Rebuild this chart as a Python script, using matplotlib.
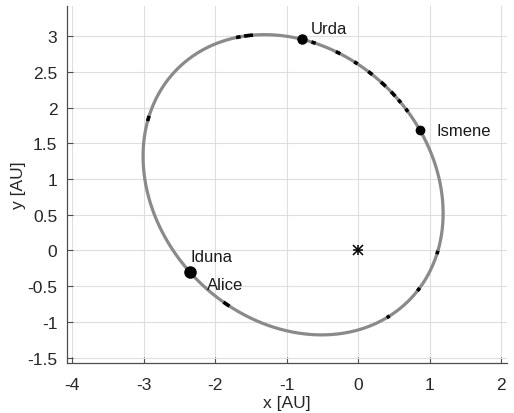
import numpy as np
import matplotlib
matplotlib.use("Agg")
import matplotlib.pyplot as plt

plt.rcParams['font.family'] = ['Liberation Sans', 'DejaVu Sans']

# Orbital elements of the plotted orbit (Sun at the focus, origin)
semi_major = 2.29          # AU
eccentricity = 0.565
perihelion_angle = -45.3   # deg, direction of perihelion seen from the Sun

# Bodies on the orbit: polar angle from the Sun (deg)
body_names = ["Urda", "Ismene", "Iduna"]
body_angles = [104.9, 62.9, 187.2]
body_sizes = [6.5, 6.0, 8.0]
label_offsets = [(6, 8), (12, 0), (1, 11)]

# Extra label without its own dot
extra_label = "Alice"
extra_label_xy = (-2.11, -0.48)

# Short arcs of other objects along the orbit: centre angle (deg), half-width (deg)
arc_angles = [119.3, 117.0, 147.8, 102.1, 95.8, 90.7, 86.1, 81.4, 77.4, 74.5,
              70.9, 202.2, -1.5, -32.9, -65.7]
arc_halfwidths = [0.5, 1.0, 0.6, 0.5, 0.6, 0.5, 0.7, 0.9, 0.9, 0.6,
                  0.6, 1.2, 1.2, 1.5, 1.3]

x_ticks = [-4, -3, -2, -1, 0, 1, 2]
y_ticks = [-1.5, -1, -0.5, 0, 0.5, 1, 1.5, 2, 2.5, 3]


def orbit_xy(theta_deg):
    th = np.radians(np.asarray(theta_deg, dtype=float))
    p = semi_major * (1 - eccentricity ** 2)
    r = p / (1 + eccentricity * np.cos(th - np.radians(perihelion_angle)))
    return r * np.cos(th), r * np.sin(th)


fig = plt.figure(figsize=(5.14, 4.14), dpi=100)
ax = fig.add_axes([0.1304, 0.1208, 0.856, 0.862])

# full orbit
theta = np.linspace(0, 360, 1000)
ox, oy = orbit_xy(theta)
ax.plot(ox, oy, color='#8a8a8a', lw=2.3, zorder=3, solid_capstyle='round')

# arcs of other objects
for c, hw in zip(arc_angles, arc_halfwidths):
    t = np.linspace(c - hw, c + hw, 10)
    sx, sy = orbit_xy(t)
    ax.plot(sx, sy, color='black', lw=2.6, zorder=4, solid_capstyle='butt')

# Sun, drawn as an asterisk (plus and cross strokes)
for mk in ['+', 'x']:
    ax.plot([0], [0], marker=mk, color='black', markersize=7, ls='none',
            zorder=5, markeredgewidth=1.1)

# bodies
for name, ang, ms, off in zip(body_names, body_angles, body_sizes, label_offsets):
    bx, by = orbit_xy(ang)
    ax.plot([bx], [by], 'o', color='black', markersize=ms, zorder=6)
    ax.annotate(name, (bx, by), xytext=off, textcoords='offset points',
                ha='left', va='center', fontsize=12, color='#1a1a1a', zorder=7)

ax.text(extra_label_xy[0], extra_label_xy[1], extra_label, ha='left', va='center',
        fontsize=12, color='#1a1a1a', zorder=7)

ax.set_xlim(-4.07, 2.08)
ax.set_ylim(-1.575, 3.42)
ax.set_xticks(x_ticks)
ax.set_yticks(y_ticks)
ax.set_xticklabels([f"{v:g}" for v in x_ticks])
ax.set_yticklabels([f"{v:g}" for v in y_ticks])

ax.grid(True, color='#dedede', lw=0.8, zorder=0)
ax.set_axisbelow(True)
for side in ['top', 'right']:
    ax.spines[side].set_visible(False)
for side in ['left', 'bottom']:
    ax.spines[side].set_color('#4d4d4d')
    ax.spines[side].set_linewidth(0.9)
ax.tick_params(direction='in', length=4, width=0.8, color='#4d4d4d',
               labelsize=12.5, labelcolor='#262626')
ax.tick_params(axis='x', pad=10)
ax.tick_params(axis='y', pad=7)

ax.set_xlabel('x [AU]', fontsize=12.5, color='#262626', labelpad=2)
ax.set_ylabel('y [AU]', fontsize=12.5, color='#262626', labelpad=1)

fig.savefig('out.png', dpi=100)
